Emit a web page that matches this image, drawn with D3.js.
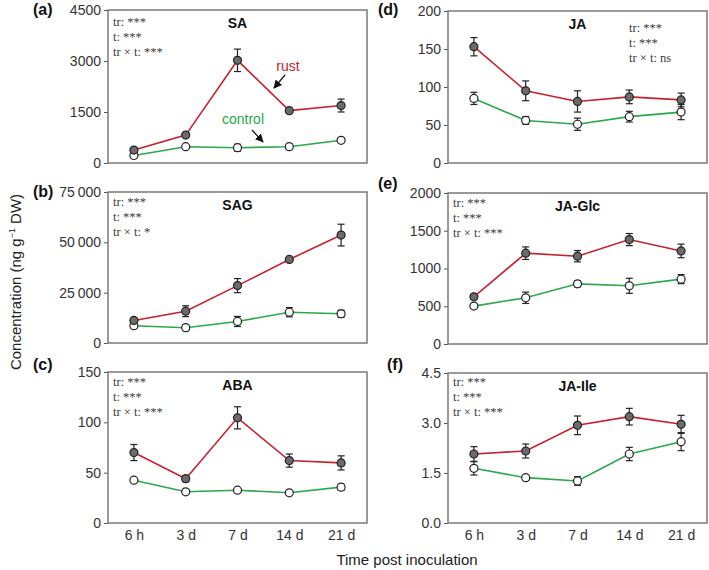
<!DOCTYPE html>
<html>
<head>
<meta charset="utf-8">
<script src="https://cdn.jsdelivr.net/npm/d3@7"></script>
<style>
  body { margin: 0; background: #fff; }
  text { font-family: Arial, "Liberation Sans", sans-serif; }
  .stat { font-family: "Times New Roman", "Liberation Serif", serif; font-size: 12.5px; fill: #3a3a3a; }
</style>
</head>
<body>
<svg id="chart" width="709" height="570"></svg>
<script>
// time points
const times = ['6 h', '3 d', '7 d', '14 d', '21 d']

// SA
const saRust = [380, 820, 3020, 1540, 1690]
const saRustErr = [60, 50, 330, 80, 190]
const saCtrl = [220, 480, 450, 480, 667]
const saCtrlErr = [40, 40, 100, 80, 60]

// SAG
const sagRust = [11200, 15800, 28500, 41500, 53600]
const sagRustErr = [1200, 2700, 3500, 1000, 5400]
const sagCtrl = [8600, 7600, 10700, 15300, 14500]
const sagCtrlErr = [1200, 1500, 2500, 2300, 1800]

// ABA
const abaRust = [70, 44, 104.5, 62, 59.7]
const abaRustErr = [8, 3, 11, 6.5, 7]
const abaCtrl = [42.5, 31, 32.6, 30, 35.6]
const abaCtrlErr = [2, 2, 1.5, 1, 3]

// JA
const jaRust = [153, 95, 81, 87, 83]
const jaRustErr = [12, 13, 14, 9, 9]
const jaCtrl = [85, 56, 51, 61, 67]
const jaCtrlErr = [8, 5, 8, 7, 10]

// JA-Glc
const glcRust = [625, 1203, 1163, 1383, 1233]
const glcRustErr = [30, 83, 75, 80, 90]
const glcCtrl = [502, 612, 797, 771, 859]
const glcCtrlErr = [30, 75, 40, 100, 60]

// JA-Ile
const ileRust = [2.07, 2.16, 2.93, 3.19, 2.96]
const ileRustErr = [0.22, 0.21, 0.28, 0.25, 0.27]
const ileCtrl = [1.64, 1.36, 1.26, 2.07, 2.44]
const ileCtrlErr = [0.2, 0.08, 0.13, 0.2, 0.27]

// y ticks
const saTicks = [0, 1500, 3000, 4500]
const sagTicks = [0, 25000, 50000, 75000]
const abaTicks = [0, 50, 100, 150]
const jaTicks = [0, 50, 100, 150, 200]
const glcTicks = [0, 500, 1000, 1500, 2000]
const ileTicks = [0, 1.5, 3, 4.5]

// stats text
const statsAll3 = ['tr: ***', 't: ***', 'tr \u00d7 t: ***']
const statsSag = ['tr: ***', 't: ***', 'tr \u00d7 t: *']
const statsJa = ['tr: ***', 't: ***', 'tr \u00d7 t: ns']

const RED = '#c8202f'
const GREEN = '#2aa84a'
const W = 259

const spaceFmt = d => d3.format(',')(d).replace(/,/g, '\u2009')

const panels = [
  { tag: '(a)', title: 'SA', x: 108, y: 10, h: 153, rust: saRust, rustErr: saRustErr, ctrl: saCtrl, ctrlErr: saCtrlErr,
    ticks: saTicks, fmt: d3.format('d'), stats: statsAll3, sx: 5, sy: 16, tagX: 33, tagY: 15, xLabels: false },
  { tag: '(b)', title: 'SAG', x: 108, y: 192, h: 151, rust: sagRust, rustErr: sagRustErr, ctrl: sagCtrl, ctrlErr: sagCtrlErr,
    ticks: sagTicks, fmt: spaceFmt, stats: statsSag, sx: 5, sy: 14, tagX: 33, tagY: 197, xLabels: false },
  { tag: '(c)', title: 'ABA', x: 108, y: 372, h: 151, rust: abaRust, rustErr: abaRustErr, ctrl: abaCtrl, ctrlErr: abaCtrlErr,
    ticks: abaTicks, fmt: d3.format('d'), stats: statsAll3, sx: 5, sy: 14, tagX: 33, tagY: 370, xLabels: true },
  { tag: '(d)', title: 'JA', x: 448, y: 11, h: 152, rust: jaRust, rustErr: jaRustErr, ctrl: jaCtrl, ctrlErr: jaCtrlErr,
    ticks: jaTicks, fmt: d3.format('d'), stats: statsJa, sx: 181, sy: 21, tagX: 378, tagY: 15, xLabels: false },
  { tag: '(e)', title: 'JA-Glc', x: 448, y: 193, h: 151, rust: glcRust, rustErr: glcRustErr, ctrl: glcCtrl, ctrlErr: glcCtrlErr,
    ticks: glcTicks, fmt: d3.format('d'), stats: statsAll3, sx: 5, sy: 14, tagX: 378, tagY: 189, xLabels: false },
  { tag: '(f)', title: 'JA-Ile', x: 448, y: 373, h: 150, rust: ileRust, rustErr: ileRustErr, ctrl: ileCtrl, ctrlErr: ileCtrlErr,
    ticks: ileTicks, fmt: d3.format('.1f'), stats: statsAll3, sx: 5, sy: 13, tagX: 387, tagY: 370, xLabels: true }
]

const svg = d3.select('#chart')
svg.append('rect').attr('width', 709).attr('height', 570).attr('fill', '#fff')

svg.append('defs').append('marker')
  .attr('id', 'arrow')
  .attr('viewBox', '0 0 10 10')
  .attr('refX', 9).attr('refY', 5)
  .attr('markerWidth', 7).attr('markerHeight', 7)
  .attr('orient', 'auto')
  .append('path').attr('d', 'M0,0 L10,5 L0,10 Z').attr('fill', '#111')

function drawPanel (p) {
  const g = svg.append('g').attr('transform', 'translate(' + p.x + ',' + p.y + ')')
  const x = d3.scalePoint().domain(times).range([0, W]).padding(0.5)
  const y = d3.scaleLinear().domain([p.ticks[0], p.ticks[p.ticks.length - 1]]).range([p.h, 0])

  // y axis
  const ya = g.append('g')
    .call(d3.axisLeft(y).tickValues(p.ticks).tickSize(4).tickPadding(3).tickFormat(p.fmt))
  ya.select('.domain').remove()
  ya.selectAll('line').attr('stroke', '#555')
  ya.selectAll('text').attr('font-size', 14).attr('fill', '#333').attr('font-family', 'Arial, "Liberation Sans", sans-serif')

  // x labels only on the bottom row
  if (p.xLabels) {
    const xa = g.append('g').attr('transform', 'translate(0,' + p.h + ')')
      .call(d3.axisBottom(x).tickSize(0).tickPadding(7))
    xa.select('.domain').remove()
    xa.selectAll('text').attr('font-size', 14).attr('fill', '#333').attr('font-family', 'Arial, "Liberation Sans", sans-serif')
  }

  // frame
  g.append('rect').attr('width', W).attr('height', p.h)
    .attr('fill', 'none').attr('stroke', '#7a7a7a').attr('stroke-width', 1.5)

  const line = d3.line().x((d, i) => x(times[i])).y(d => y(d))

  const series = [
    { vals: p.ctrl, err: p.ctrlErr, color: GREEN, fill: '#fff' },
    { vals: p.rust, err: p.rustErr, color: RED, fill: '#6b6b6b' }
  ]

  series.forEach(s => {
    g.append('path').datum(s.vals).attr('d', line)
      .attr('fill', 'none').attr('stroke', s.color).attr('stroke-width', 1.6)
  })

  series.forEach(s => {
    const eb = g.append('g')
    s.vals.forEach((v, i) => {
      const cx = x(times[i])
      const y1 = y(v + s.err[i])
      const y2 = y(v - s.err[i])
      eb.append('line').attr('x1', cx).attr('x2', cx).attr('y1', y1).attr('y2', y2)
        .attr('stroke', '#222').attr('stroke-width', 1.2)
      eb.append('line').attr('x1', cx - 3.5).attr('x2', cx + 3.5).attr('y1', y1).attr('y2', y1)
        .attr('stroke', '#222').attr('stroke-width', 1.2)
      eb.append('line').attr('x1', cx - 3.5).attr('x2', cx + 3.5).attr('y1', y2).attr('y2', y2)
        .attr('stroke', '#222').attr('stroke-width', 1.2)
    })
    g.append('g').selectAll('circle').data(s.vals).join('circle')
      .attr('cx', (d, i) => x(times[i]))
      .attr('cy', d => y(d))
      .attr('r', 4)
      .attr('fill', s.fill)
      .attr('stroke', '#222')
      .attr('stroke-width', 1.2)
  })

  // title
  g.append('text').attr('x', W / 2).attr('y', 18).attr('text-anchor', 'middle')
    .attr('font-size', 14).attr('font-weight', 'bold').attr('fill', '#111').text(p.title)

  // stats
  g.selectAll('.stat').data(p.stats).join('text')
    .attr('class', 'stat')
    .attr('x', p.sx)
    .attr('y', (d, i) => p.sy + i * 15)
    .text(d => d)

  // panel tag
  svg.append('text').attr('x', p.tagX).attr('y', p.tagY)
    .attr('font-size', 16).attr('font-weight', 'bold').attr('fill', '#111').text(p.tag)

  return g
}

const groups = panels.map(drawPanel)

// annotations on SA panel
const ga = groups[0]
ga.append('text').attr('x', 180).attr('y', 61).attr('text-anchor', 'middle')
  .attr('font-size', 14).attr('fill', RED).text('rust')
ga.append('line').attr('x1', 177).attr('y1', 65).attr('x2', 166).attr('y2', 78)
  .attr('stroke', '#111').attr('stroke-width', 1.2).attr('marker-end', 'url(#arrow)')
ga.append('text').attr('x', 135).attr('y', 114).attr('text-anchor', 'middle')
  .attr('font-size', 14).attr('fill', GREEN).text('control')
ga.append('line').attr('x1', 144).attr('y1', 120).attr('x2', 155).attr('y2', 132)
  .attr('stroke', '#111').attr('stroke-width', 1.2).attr('marker-end', 'url(#arrow)')

// shared axis titles
svg.append('text')
  .attr('transform', 'translate(20.5,282) rotate(-90)')
  .attr('text-anchor', 'middle').attr('font-size', 15).attr('fill', '#222')
  .call(t => {
    t.append('tspan').text('Concentration (ng g')
    t.append('tspan').attr('font-size', 9).attr('dy', -6).text('\u22121')
    t.append('tspan').attr('dy', 6).text(' DW)')
  })

svg.append('text').attr('x', 407).attr('y', 565).attr('text-anchor', 'middle')
  .attr('font-size', 15).attr('fill', '#222').text('Time post inoculation')
</script>
</body>
</html>
